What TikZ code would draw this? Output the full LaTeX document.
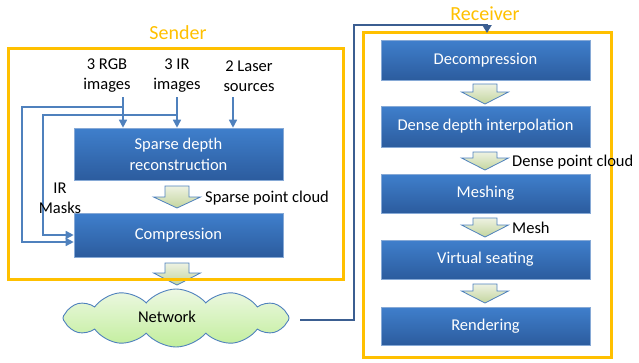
\documentclass[tikz,border=0pt]{standalone}
\usepackage{fontspec}
\setmainfont{Carlito}
\usetikzlibrary{arrows.meta,shapes.symbols,calc}

\definecolor{gold}{HTML}{FFC000}
\definecolor{blocktop}{HTML}{3F7FCC}
\definecolor{blockbot}{HTML}{2C5C9E}
\definecolor{blockedge}{HTML}{86A9D6}
\definecolor{wire}{HTML}{4F81BD}
\definecolor{netwire}{HTML}{3B5E91}
\definecolor{fattop}{HTML}{EEF2E2}
\definecolor{fatbot}{HTML}{C3D59E}
\definecolor{cloudtop}{HTML}{EDF8E3}
\definecolor{cloudbot}{HTML}{C2EE9C}

\tikzset{
  block/.style={rectangle, draw=blockedge, line width=0.6pt,
    top color=blocktop, bottom color=blockbot, text=white,
    minimum width=209pt, inner sep=0pt, align=center,
    font=\fontsize{16.5}{21}\selectfont},
  label/.style={inner sep=0pt, align=center, font=\fontsize{16.5}{20}\selectfont},
  title/.style={inner sep=0pt, text=gold, font=\fontsize{20}{24}\selectfont},
  group/.style={draw=gold, line width=3pt},
  feed/.style={draw=wire, line width=1.5pt, -{Triangle[length=8pt,width=8pt]}},
  fat/.style={draw=wire, line width=0.8pt, top color=fattop, bottom color=fatbot},
}

% broad downward arrow: centre x, top y, head start y, tip y
\newcommand\fatdown[4]{%
  \path[fat] (#1-12,#2) -- (#1+12,#2) -- (#1+12,#3) -- (#1+23.5,#3)
    -- (#1,#4) -- (#1-23.5,#3) -- (#1-12,#3) -- cycle;}

\begin{document}
\begin{tikzpicture}[x=1pt,y=-1pt]
\useasboundingbox (0,0) rectangle (639,362);

% ---------- sender ----------
\node[title] (sendert) at (178,33) {Sender};

\node[label] (rgb)   at (107,76) {3 RGB\\images};
\node[label] (ir)    at (177,76) {3 IR\\images};
\node[label] (laser) at (249,76) {2 Laser\\sources};

\node[block, minimum height=52pt] (sparse) at (178.5,154) {Sparse depth\\reconstruction};
\node[block, minimum height=44pt] (compr)  at (178.5,235) {Compression};

\coordinate (rgbout)   at (123,97);
\coordinate (irout)    at (177,97);
\coordinate (laserout) at (233,97);
\draw[feed] (rgbout) -- (rgbout |- sparse.north);
\draw[feed] (irout) -- (irout |- sparse.north);
\draw[feed] (laserout) -- (laserout |- sparse.north);

% image feeds bypassing reconstruction
\coordinate (rgbtap) at (123,107);
\coordinate (irtap)  at (177,115);
\draw[feed] (rgbtap) -- (22,107) -- (22,242) -- (compr.west |- 0,242);
\draw[feed] (irtap) -- (43,115) -- (43,235) -- (compr.west |- 0,235);

\node[label] (masks) at (60,198) {IR\\Masks};

\fatdown{177}{186}{197}{208}
\node[label, anchor=west] (spc) at (205,198) {Sparse point cloud};

\fatdown{177}{263}{273}{285}

\draw[group] (8,48) rectangle (343,279);

% ---------- network ----------
\node[cloud, cloud puffs=12, cloud puff arc=100, cloud ignores aspect,
      minimum width=226pt, minimum height=58pt, draw=wire, line width=0.9pt,
      top color=cloudtop, bottom color=cloudbot, inner sep=0pt] (net) at (176,318) {};
\node[label] (nett) at (167,317) {Network};

% ---------- receiver ----------
\node[title] (receivert) at (485,14) {Receiver};
\draw[group] (363,32) rectangle (611,357);

\node[block, minimum height=40pt] (dec)   at (485.5,60)  {Decompression};
\node[block, minimum height=41pt] (dense) at (485.5,126.5) {Dense depth interpolation};
\node[block, minimum height=39pt] (mesh)  at (485.5,193.5) {Meshing};
\node[block, minimum height=39pt] (seat)  at (485.5,259.5) {Virtual seating};
\node[block, minimum height=38pt] (rend)  at (485.5,326) {Rendering};

\fatdown{485}{84}{92}{104}
\fatdown{485}{152}{158}{170}
\node[label, anchor=west] (dpc) at (512,162) {Dense point cloud};
\fatdown{485}{218}{225}{237}
\node[label, anchor=west] (meshl) at (512,228) {Mesh};
\fatdown{485}{284}{291}{303}

% network to receiver
\coordinate (recvin) at (487,33);
\draw[draw=netwire, line width=2.5pt, -{Triangle[length=8pt,width=9pt]}]
  (300,320) -- (354,320) -- (354,25) -- (recvin |- 0,25) -- (recvin);
\end{tikzpicture}
\end{document}
